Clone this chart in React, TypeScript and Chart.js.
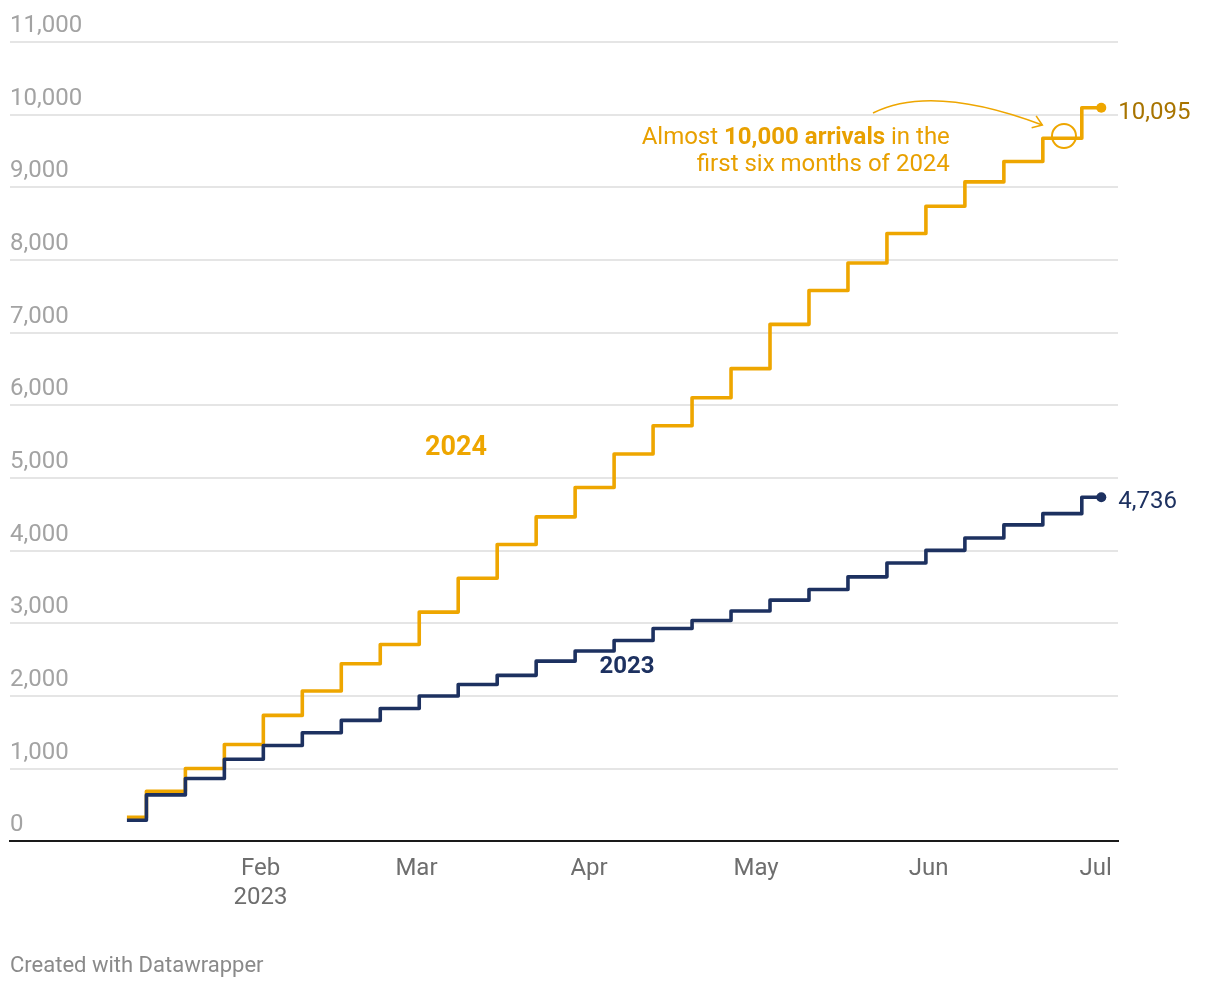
import React, { useEffect, useRef } from 'react';
import { Chart, registerables } from 'chart.js';

Chart.register(...registerables);

// ---- Data ----
const weekDates = [
  '2023-01-08', '2023-01-15', '2023-01-22', '2023-01-29',
  '2023-02-05', '2023-02-12', '2023-02-19', '2023-02-26',
  '2023-03-05', '2023-03-12', '2023-03-19', '2023-03-26',
  '2023-04-02', '2023-04-09', '2023-04-16', '2023-04-23', '2023-04-30',
  '2023-05-07', '2023-05-14', '2023-05-21', '2023-05-28',
  '2023-06-04', '2023-06-11', '2023-06-18', '2023-06-25',
  '2023-07-02',
];

const values2023 = [
  290, 640, 865, 1130, 1320, 1495, 1665, 1828, 2000, 2160, 2285, 2480, 2620,
  2765, 2930, 3040, 3170, 3320, 3466, 3640, 3830, 4005, 4175, 4355, 4510, 4736,
];

const values2024 = [
  330, 690, 1003, 1334, 1734, 2070, 2445, 2710, 3155, 3620, 4085, 4465, 4870,
  5330, 5720, 6105, 6505, 7115, 7580, 7960, 8365, 8740, 9075, 9355, 9675, 10095,
];

const seriesNames = ['2023', '2024'];
const endLabels = ['4,736', '10,095'];

const monthTickDates = ['2023-02-01', '2023-03-01', '2023-04-01', '2023-05-01', '2023-06-01', '2023-07-01'];
const monthTickLabels: (string | string[])[] = [['Feb', '2023'], 'Mar', 'Apr', 'May', 'Jun', 'Jul'];

const xRange = ['2022-12-18', '2023-07-05'];
const yMin = 0;
const yMax = 11000;
const yStep = 1000;

const annotationLine2 = 'first six months of 2024';

// ---- Styles ----
const NAVY = '#1d3160';
const ORANGE = '#eea600';
const ORANGE_TEXT = '#e8a000';
const ORANGE_LABEL = '#a87400';
const FONT = 'Roboto';

const dayOf = (iso: string) => {
  const [y, m, d] = iso.split('-').map(Number);
  return (Date.UTC(y, m - 1, d) - Date.UTC(2023, 0, 1)) / 86400000;
};

const annotationPlugin = {
  id: 'dwAnnotations',
  afterDatasetsDraw(chart: any) {
    const { ctx } = chart;
    const xs = chart.scales.x;
    const ys = chart.scales.y;
    const P = (x: number, y: number) => [xs.getPixelForValue(x), ys.getPixelForValue(y)];

    ctx.save();
    // end labels
    const seriesVals = [values2023, values2024];
    const endColors = [NAVY, ORANGE_LABEL];
    seriesVals.forEach((vals, i) => {
      const last = vals.length - 1;
      const [px, py] = P(dayOf(weekDates[last]), vals[last]);
      ctx.font = `400 24px ${FONT}`;
      ctx.fillStyle = endColors[i];
      ctx.textAlign = 'left';
      ctx.textBaseline = 'middle';
      ctx.fillText(endLabels[i], px + 17, py + 5);
    });

    // series labels
    ctx.textAlign = 'center';
    ctx.textBaseline = 'middle';
    {
      const [px, py] = P(66.1, 5410);
      ctx.font = `700 27px ${FONT}`;
      ctx.fillStyle = ORANGE;
      ctx.fillText(seriesNames[1], px, py);
    }
    {
      const [px, py] = P(96.8, 2405);
      ctx.font = `700 24px ${FONT}`;
      ctx.fillStyle = NAVY;
      ctx.fillText(seriesNames[0], px, py);
    }

    // annotation text (right aligned)
    const [rx, ry] = P(154.8, 9680);
    ctx.textBaseline = 'middle';
    ctx.fillStyle = ORANGE_TEXT;
    const parts: [string, string][] = [
      ['Almost ', '400'],
      ['10,000 arrivals', '700'],
      [' in the', '400'],
    ];
    let total = 0;
    const widths = parts.map(([t, w]) => {
      ctx.font = `${w} 24px ${FONT}`;
      const m = ctx.measureText(t).width;
      total += m;
      return m;
    });
    let cx = rx - total;
    ctx.textAlign = 'left';
    parts.forEach(([t, w], i) => {
      ctx.font = `${w} 24px ${FONT}`;
      ctx.fillText(t, cx, ry);
      cx += widths[i];
    });
    ctx.textAlign = 'right';
    ctx.font = `400 24px ${FONT}`;
    ctx.fillText(annotationLine2, rx, ry + 27);

    // circle highlight
    const [ccx, ccy] = P(175.3, 9707);
    ctx.strokeStyle = ORANGE;
    ctx.lineWidth = 2;
    ctx.beginPath();
    ctx.arc(ccx, ccy, 12, 0, Math.PI * 2);
    ctx.stroke();

    // curved arrow
    const [sx, sy] = P(141.0, 10023);
    const [qx, qy] = P(151.6, 10429);
    const [ex, ey] = P(171.4, 9858);
    ctx.lineWidth = 1.6;
    ctx.beginPath();
    ctx.moveTo(sx, sy);
    ctx.quadraticCurveTo(qx, qy, ex, ey);
    ctx.stroke();
    const ang = Math.atan2(ey - qy, ex - qx);
    const head = 11;
    ctx.beginPath();
    ctx.moveTo(ex + Math.cos(ang + Math.PI - 0.62) * head, ey + Math.sin(ang + Math.PI - 0.62) * head);
    ctx.lineTo(ex, ey);
    ctx.lineTo(ex + Math.cos(ang + Math.PI + 0.62) * head, ey + Math.sin(ang + Math.PI + 0.62) * head);
    ctx.stroke();

    ctx.restore();
  },
};

export default function App() {
  const canvasRef = useRef<HTMLCanvasElement | null>(null);

  useEffect(() => {
    document.body.style.margin = '0';
    const canvas = canvasRef.current;
    if (!canvas) return;
    const xDays = weekDates.map(dayOf);
    const lastIdx = weekDates.length - 1;

    const chart = new Chart(canvas, {
      type: 'line',
      data: {
        datasets: [
          {
            label: seriesNames[0],
            data: xDays.map((x, i) => ({ x, y: values2023[i] })),
            borderColor: NAVY,
            backgroundColor: NAVY,
            borderWidth: 3.6,
            stepped: 'middle',
            fill: false,
            borderJoinStyle: 'round',
            pointRadius: (c: any) => (c.dataIndex === lastIdx ? 5 : 0),
            pointBorderWidth: 0,
            pointBackgroundColor: NAVY,
          },
          {
            label: seriesNames[1],
            data: xDays.map((x, i) => ({ x, y: values2024[i] })),
            borderColor: ORANGE,
            backgroundColor: ORANGE,
            borderWidth: 3.6,
            stepped: 'middle',
            fill: false,
            borderJoinStyle: 'round',
            pointRadius: (c: any) => (c.dataIndex === lastIdx ? 5 : 0),
            pointBorderWidth: 0,
            pointBackgroundColor: ORANGE,
          },
        ],
      },
      options: {
        animation: false,
        responsive: true,
        maintainAspectRatio: false,
        layout: { padding: { left: 10, right: 102, top: 42, bottom: 63 } },
        plugins: {
          legend: { display: false },
          tooltip: { enabled: false },
        },
        scales: {
          x: {
            type: 'linear',
            min: dayOf(xRange[0]),
            max: dayOf(xRange[1]),
            afterBuildTicks: (scale: any) => {
              scale.ticks = monthTickDates.map((d) => ({ value: dayOf(d) }));
            },
            ticks: {
              autoSkip: false,
              maxRotation: 0,
              padding: 13,
              color: '#6e6e6e',
              font: { family: FONT, size: 24, lineHeight: 1.2 },
              callback: (_v: any, i: number) => monthTickLabels[i],
            },
            grid: { display: false, drawTicks: false },
            border: { display: true, color: '#1a1a1a', width: 2 },
          },
          y: {
            min: yMin,
            max: yMax,
            ticks: {
              stepSize: yStep,
              mirror: true,
              padding: 0,
              labelOffset: -16,
              color: '#a3a3a3',
              font: { family: FONT, size: 24 },
              callback: (v: any) => Number(v).toLocaleString('en-US'),
            },
            grid: {
              color: (c: any) => (c.tick && c.tick.value === 0 ? 'rgba(0,0,0,0)' : '#e5e5e5'),
              lineWidth: 2,
              drawTicks: false,
            },
            border: { display: false },
          },
        },
      },
      plugins: [annotationPlugin],
    } as any);

    return () => chart.destroy();
  }, []);

  return (
    <div style={{ position: 'relative', width: 1220, height: 988, fontFamily: FONT }}>
      <canvas ref={canvasRef} />
      <div
        style={{
          position: 'absolute',
          left: 10,
          top: 951,
          fontSize: 22,
          lineHeight: '28px',
          color: '#8a8a8a',
          fontFamily: FONT,
        }}
      >
        Created with Datawrapper
      </div>
    </div>
  );
}
